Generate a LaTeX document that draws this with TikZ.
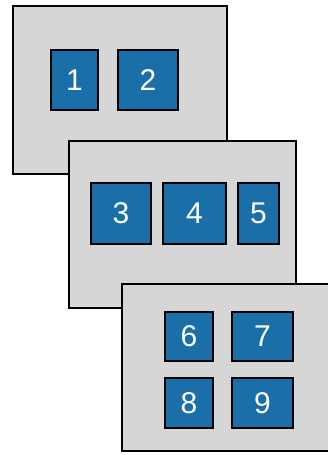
\documentclass[tikz,border=0pt]{standalone}
\usepackage{fontspec}
\setmainfont{Liberation Sans}
\definecolor{panelgray}{HTML}{D6D6D6}
\definecolor{boxblue}{HTML}{1A6FA8}
\begin{document}
\begin{tikzpicture}[x=1pt,y=-1pt,
  panel/.style={draw=black,line width=2pt,fill=panelgray},
  bluebox/.style={draw=black,line width=2pt,fill=boxblue,text=white,font=\fontsize{30}{32}\selectfont}]
\useasboundingbox (0,0) rectangle (328,455);
\clip (0,0) rectangle (328,455);
\newcommand{\blk}[6]{\node[bluebox,minimum width=#3-#2-2pt,minimum height=#5-#4-2pt,inner sep=0pt] (#1) at ({(#2+#3)/2},{(#4+#5)/2}) {#6};}
\path[panel] (13,6) rectangle (227,174);
\blk{b1}{50}{99}{49}{111}{1}
\blk{b2}{117}{179}{49}{111}{2}
\path[panel] (69,141) rectangle (296,308);
\blk{b3}{90}{152}{182}{245}{3}
\blk{b4}{162}{227}{182}{245}{4}
\blk{b5}{237}{280}{182}{245}{5}
\path[panel] (122,284) rectangle (345,450.5);
\blk{b6}{164}{214}{311}{362}{6}
\blk{b7}{231}{294}{311}{362}{7}
\blk{b8}{164}{214}{377}{429}{8}
\blk{b9}{231}{294}{377}{429}{9}
\end{tikzpicture}
\end{document}
